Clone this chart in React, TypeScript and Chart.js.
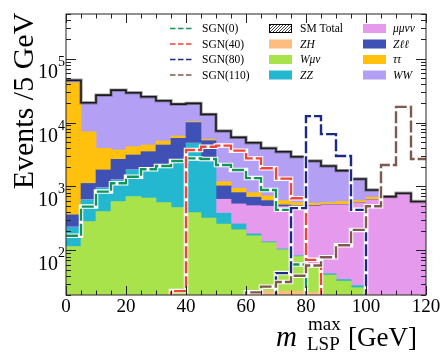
import React, { useEffect, useRef } from "react";
import { Chart, registerables } from "chart.js";

Chart.register(...registerables);

// ---------- data (m_LSP^max bins, 5 GeV wide) ----------
const binStart = [0, 5, 10, 15, 20, 25, 30, 35, 40, 45, 50, 55, 60, 65, 70, 75, 80, 85, 90, 95, 100, 105, 110, 115];
const binWidth = 5;
const xMaxEdge = 120;

// stacked SM backgrounds (bottom -> top)
const ZH = [5, 5, 6, 6, 7, 7, 8, 8, 9, 9, 10, 12, 21, 23, 23, 23, 22, 12, 10, 8, 6, 5, 4, 4];
const Wmunu = [110, 277, 398, 574, 686, 648, 551, 459, 381, 310, 247, 197, 148, 109, 79, 57, 34, 29, 23, 18, 10, 9, 8, 6];
const ZZ = [114, 333, 544, 684, 1117, 1312, 1608, 1976, 4340, 2121, 124, 50, 12, 4, 3, 2, 2, 2, 2, 2, 2, 2, 2, 2];
const MuMuNuNu = [4, 8, 12, 15, 20, 25, 30, 40, 50, 60, 250, 274, 319, 354, 378, 401, 437, 471, 479, 519, 597, 662, 750, 554];
const Zll = [126, 491, 851, 1381, 1275, 1508, 2253, 3177, 5210, 2700, 387, 267, 178, 110, 31, 17, 10, 8, 8, 8, 7, 3, 2, 2];
const TauTau = [41540, 6070, 2140, 1055, 1085, 950, 690, 490, 310, 260, 170, 138, 122, 111, 86, 59, 42, 37, 58, 45, 56, 7, 4, 4];
const WW = [4100, 13220, 22950, 28480, 25010, 20850, 16760, 13250, 9650, 7970, 6170, 4930, 4040, 3240, 2900, 2360, 1950, 1530, 1190, 710, 200, 5, 13, 8];

// signals
const SGN0 = [169, 484, 830, 1122, 1422, 1858, 2090, 2500, 2750, 2690, 2170, 1810, 1350, 880, 430, 60, 0, 0, 0, 0, 0, 0, 0, 0];
const SGN40 = [0, 0, 0, 0, 0, 0, 0, 23, 3715, 4190, 4360, 3630, 2750, 1925, 1324, 655, 71, 0, 0, 0, 0, 0, 0, 0];
const SGN80 = [0, 0, 0, 0, 0, 0, 0, 0, 0, 0, 0, 0, 0, 0, 44, 458, 12600, 6600, 3000, 430, 0, 0, 0, 0];
const SGN110 = [0, 0, 0, 0, 0, 0, 0, 0, 0, 0, 0, 0, 22, 27, 32, 40, 58, 78, 120, 209, 490, 2170, 17600, 2690];

// axes
const xTickValues = [0, 20, 40, 60, 80, 100, 120];
const yDecadeExponents = [2, 3, 4, 5];
const yMin = 20;
const yMax = 5e5;

const FONT = '"Liberation Serif", "Times New Roman", serif';

const backgrounds = [
  { label: "ZH", data: ZH, color: "#fdbd80" },
  { label: "Wμν", data: Wmunu, color: "#a9e34b" },
  { label: "ZZ", data: ZZ, color: "#24b8d0" },
  { label: "μμνν", data: MuMuNuNu, color: "#e69aee" },
  { label: "Zℓℓ", data: Zll, color: "#3f51b5" },
  { label: "ττ", data: TauTau, color: "#ffc10e" },
  { label: "WW", data: WW, color: "#b3a0f5" },
];

const signals = [
  { label: "SGN(0)", data: SGN0, color: "#12935a" },
  { label: "SGN(40)", data: SGN40, color: "#f0443a" },
  { label: "SGN(80)", data: SGN80, color: "#1c2a84" },
  { label: "SGN(110)", data: SGN110, color: "#7d5a4e" },
];

const smTotal = binStart.map((_, i) => backgrounds.reduce((s, b) => s + b.data[i], 0));

function barPoints(values: number[]) {
  return binStart.map((x, i) => ({ x: x + binWidth / 2, y: values[i] }));
}

function stepPoints(values: number[]) {
  const pts = binStart.map((x, i) => ({ x, y: values[i] > 0 ? values[i] : 1 }));
  const last = values[values.length - 1];
  pts.push({ x: xMaxEdge, y: last > 0 ? last : 1 });
  return pts;
}

// legend layout: column-major, 3 columns of 4 rows
const legendCol1 = signals.map((s) => s.label);
const legendCol2 = ["SM Total", "ZH", "Wμν", "ZZ"];
const legendCol3 = ["μμνν", "Zℓℓ", "ττ", "WW"];

const decorPlugin = {
  id: "decor",
  afterDraw(chart: any) {
    const { ctx, chartArea: a } = chart;
    const xs = chart.scales.x;
    const ys = chart.scales.y2;
    ctx.save();

    // frame
    ctx.strokeStyle = "#222";
    ctx.lineWidth = 1;
    ctx.strokeRect(a.left, a.top, a.right - a.left, a.bottom - a.top);

    // x ticks (inward, bottom & top)
    ctx.beginPath();
    for (let v = 0; v <= xMaxEdge; v += binWidth) {
      const px = Math.round(xs.getPixelForValue(v)) + 0.5;
      const len = v % 20 === 0 ? 9 : 4.5;
      ctx.moveTo(px, a.bottom);
      ctx.lineTo(px, a.bottom - len);
      ctx.moveTo(px, a.top);
      ctx.lineTo(px, a.top + len);
    }
    // y ticks (inward, left & right)
    for (let d = 1; d <= 5; d++) {
      for (let m = 1; m <= 9; m++) {
        const v = m * Math.pow(10, d);
        if (v < yMin || v > yMax) continue;
        const py = Math.round(ys.getPixelForValue(v)) + 0.5;
        const len = m === 1 ? 10 : 5;
        ctx.moveTo(a.left, py);
        ctx.lineTo(a.left + len, py);
        ctx.moveTo(a.right, py);
        ctx.lineTo(a.right - len, py);
      }
    }
    ctx.stroke();

    ctx.fillStyle = "#000";
    // x tick labels
    ctx.font = `19px ${FONT}`;
    ctx.textAlign = "center";
    ctx.textBaseline = "alphabetic";
    for (const v of xTickValues) {
      ctx.fillText(String(v), xs.getPixelForValue(v), a.bottom + 17);
    }
    // y tick labels 10^n
    for (const e of yDecadeExponents) {
      const py = ys.getPixelForValue(Math.pow(10, e));
      ctx.font = `20px ${FONT}`;
      ctx.textAlign = "right";
      ctx.fillText("10", a.left - 8, py + 19.5);
      ctx.font = `14px ${FONT}`;
      ctx.textAlign = "left";
      ctx.fillText(String(e), a.left - 8, py + 7);
    }

    // y title
    ctx.save();
    ctx.translate(33, 101);
    ctx.rotate(-Math.PI / 2);
    ctx.font = `30px ${FONT}`;
    ctx.textAlign = "center";
    ctx.fillText("Events /5 GeV", 0, 0);
    ctx.restore();

    // x title: m_LSP^max [GeV]
    ctx.textAlign = "left";
    ctx.font = `italic 29px ${FONT}`;
    ctx.fillText("m", 276, 346);
    ctx.font = `19px ${FONT}`;
    ctx.fillText("max", 308, 330);
    ctx.fillText("LSP", 307, 350);
    ctx.font = `27px ${FONT}`;
    ctx.fillText("[GeV]", 348, 346);

    // legend
    const rows = [28.5, 44, 59.5, 75];
    ctx.textBaseline = "middle";
    signals.forEach((s, i) => {
      const y = rows[i];
      ctx.strokeStyle = s.color;
      ctx.lineWidth = 1.6;
      ctx.setLineDash([5.5, 2.5]);
      ctx.beginPath();
      ctx.moveTo(170, y);
      ctx.lineTo(192, y);
      ctx.stroke();
      ctx.setLineDash([]);
      ctx.fillStyle = "#000";
      ctx.font = `11.5px ${FONT}`;
      ctx.fillText(legendCol1[i], 202, y + 0.5);
    });
    legendCol2.forEach((label, i) => {
      const y = rows[i];
      const bx = 269, bw = 23, bh = 9;
      if (i === 0) {
        ctx.fillStyle = "#fff";
        ctx.fillRect(bx, y - bh / 2, bw, bh);
        ctx.save();
        ctx.beginPath();
        ctx.rect(bx, y - bh / 2, bw, bh);
        ctx.clip();
        ctx.strokeStyle = "#444";
        ctx.lineWidth = 1;
        ctx.beginPath();
        for (let k = -bh; k < bw + bh; k += 3) {
          ctx.moveTo(bx + k, y + bh / 2);
          ctx.lineTo(bx + k + bh, y - bh / 2);
        }
        ctx.stroke();
        ctx.restore();
        ctx.strokeStyle = "#000";
        ctx.lineWidth = 1;
        ctx.strokeRect(bx + 0.5, y - bh / 2 + 0.5, bw - 1, bh - 1);
        ctx.fillStyle = "#000";
        ctx.font = `11.5px ${FONT}`;
      } else {
        const b = backgrounds.find((q) => q.label === label)!;
        ctx.fillStyle = b.color;
        ctx.fillRect(bx, y - bh / 2, bw, bh);
        ctx.fillStyle = "#000";
        ctx.font = `italic 11.5px ${FONT}`;
      }
      ctx.fillText(label, 300, y + 0.5);
    });
    legendCol3.forEach((label, i) => {
      const y = rows[i];
      const b = backgrounds.find((q) => q.label === label)!;
      ctx.fillStyle = b.color;
      ctx.fillRect(363, y - 4.5, 23, 9);
      ctx.fillStyle = "#000";
      ctx.font = `italic 11.5px ${FONT}`;
      ctx.fillText(label, 393, y + 0.5);
    });

    ctx.restore();
  },
};

export default function App() {
  const ref = useRef<HTMLCanvasElement | null>(null);

  useEffect(() => {
    if (!ref.current) return;
    const barSets = backgrounds.map((b) => ({
      type: "bar" as const,
      label: b.label,
      data: barPoints(b.data),
      backgroundColor: b.color,
      borderWidth: 0,
      barPercentage: 1,
      categoryPercentage: 1,
      grouped: false,
      xAxisID: "x",
      yAxisID: "y",
      order: 1,
      clip: 0,
    }));
    const lineBase = {
      type: "line" as const,
      pointRadius: 0,
      fill: false,
      stepped: "before" as const,
      xAxisID: "x",
      yAxisID: "y2",
      clip: 0,
    };
    const totalHalo = {
      ...lineBase,
      label: "SM Total band",
      data: stepPoints(smTotal),
      borderColor: "rgba(90,90,90,0.55)",
      borderWidth: 3.4,
      order: 0.5,
    };
    const totalSet = {
      ...lineBase,
      label: "SM Total",
      data: stepPoints(smTotal),
      borderColor: "#1a1a1a",
      borderWidth: 1.6,
      order: 0,
    };
    const sigSets: any[] = [];
    signals.forEach((s, j) => {
      sigSets.push({
        ...lineBase,
        label: s.label + " outline",
        data: stepPoints(s.data),
        borderColor: "#ffffff",
        borderWidth: 4.5,
        order: -(2 * j + 1),
      });
      sigSets.push({
        ...lineBase,
        label: s.label,
        data: stepPoints(s.data),
        borderColor: s.color,
        borderWidth: 2.4,
        borderDash: [12, 3],
        order: -(2 * j + 2),
      });
    });

    const chart = new Chart(ref.current, {
      type: "bar",
      data: {
        datasets: [...barSets, totalHalo, totalSet, ...sigSets] as any,
      },
      options: {
        responsive: false,
        animation: false,
        events: [],
        layout: { padding: { left: 66, right: 14, top: 14, bottom: 57 } },
        datasets: { bar: { barPercentage: 1, categoryPercentage: 1 } },
        plugins: { legend: { display: false }, tooltip: { enabled: false } },
        scales: {
          x: { type: "linear", display: false, stacked: true, offset: false, min: 0, max: xMaxEdge },
          y: { type: "logarithmic", display: false, stacked: true, min: yMin, max: yMax },
          y2: { type: "logarithmic", display: false, min: yMin, max: yMax },
        },
      } as any,
      plugins: [decorPlugin],
    });
    return () => chart.destroy();
  }, []);

  return (
    <div style={{ position: "fixed", left: 0, top: 0, width: 440, height: 352, background: "#fff" }}>
      <canvas ref={ref} width={440} height={352} style={{ display: "block", width: 440, height: 352 }} />
    </div>
  );
}
